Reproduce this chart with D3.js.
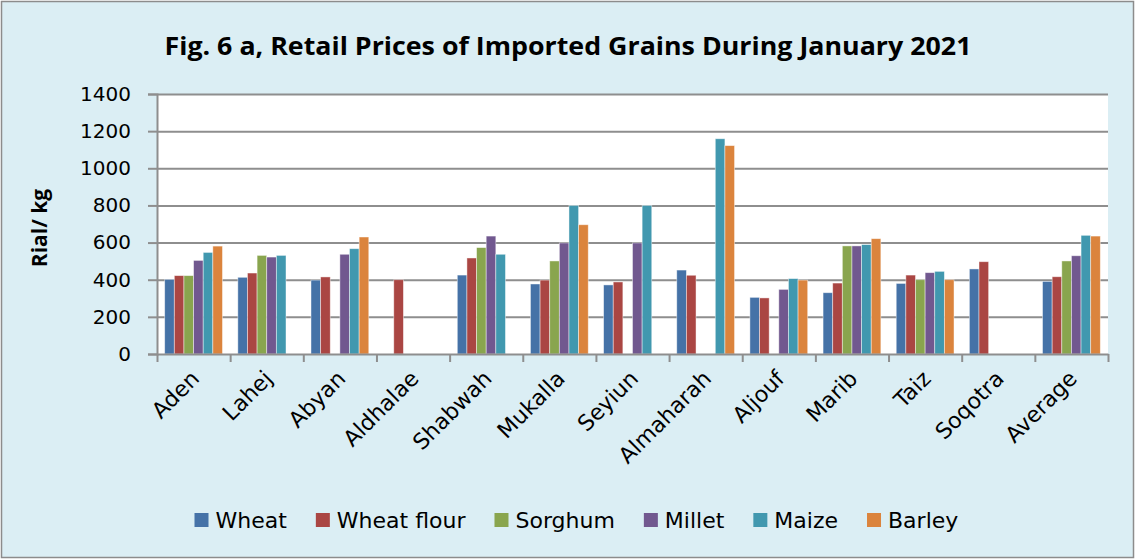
<!DOCTYPE html>
<html>
<head>
<meta charset="utf-8">
<script src="https://cdn.jsdelivr.net/npm/d3@7"></script>
<style>
  body { margin: 0; background: #fff; }
  svg { display: block; }
</style>
</head>
<body>
<svg id="chart"></svg>
<script>
const categories = ['Aden', 'Lahej', 'Abyan', 'Aldhalae', 'Shabwah', 'Mukalla', 'Seyiun', 'Almaharah', 'Aljouf', 'Marib', 'Taiz', 'Soqotra', 'Average'];
const seriesNames = ['Wheat', 'Wheat flour', 'Sorghum', 'Millet', 'Maize', 'Barley'];
const wheat      = [402, 413, 398, null, 425, 377, 372, 452, 305, 330, 380, 458, 391];
const wheatFlour = [422, 436, 415, 400, 517, 398, 388, 424, 302, 382, 425, 497, 416];
const sorghum    = [422, 531, null, null, 573, 501, null, null, null, 582, 400, null, 501];
const millet     = [504, 522, 537, null, 635, 598, 598, null, 348, 582, 438, null, 529];
const maize      = [547, 531, 567, null, 537, 800, 800, 1159, 406, 589, 445, null, 639];
const barley     = [581, null, 630, null, null, 696, null, 1122, 398, 621, 400, null, 635];
const yTicks = [0, 200, 400, 600, 800, 1000, 1200, 1400];
const colors = ['#4572A7', '#AA4643', '#89A54E', '#71588F', '#4198AF', '#DB843D'];

const seriesValues = [wheat, wheatFlour, sorghum, millet, maize, barley];

const width = 1136;
const height = 560;
const plot = { left: 157, right: 1108, top: 94, bottom: 354 };

const svg = d3.select('#chart')
  .attr('width', width)
  .attr('height', height);

// background + frame
svg.append('rect')
  .attr('x', 1.5).attr('y', 1.5)
  .attr('width', width - 4).attr('height', height - 4)
  .attr('fill', '#DBEEF4')
  .attr('stroke', '#8c8c8c')
  .attr('stroke-width', 1.5);

svg.append('rect')
  .attr('x', plot.left).attr('y', plot.top)
  .attr('width', plot.right - plot.left).attr('height', plot.bottom - plot.top)
  .attr('fill', '#fff');

// scales
const x0 = d3.scaleBand()
  .domain(categories)
  .range([plot.left, plot.right])
  .paddingInner(0.21)
  .paddingOuter(0.105);

const x1 = d3.scaleBand()
  .domain(seriesNames)
  .range([0, x0.bandwidth()]);

const xEdge = d3.scaleLinear()
  .domain([0, categories.length])
  .range([plot.left, plot.right]);

const y = d3.scaleLinear()
  .domain([0, 1400])
  .range([plot.bottom, plot.top]);

// gridlines
svg.append('g')
  .attr('class', 'grid')
  .attr('transform', `translate(${plot.left}, 0)`)
  .call(d3.axisLeft(y).tickValues(yTicks.slice(1)).tickSize(-(plot.right - plot.left)).tickFormat(''))
  .call(g => g.select('.domain').remove())
  .call(g => g.selectAll('line').attr('stroke', '#8e8e8e').attr('stroke-width', 2));

// bars
const rows = categories.map((c, i) => ({
  category: c,
  values: seriesNames.map((s, j) => ({ series: s, value: seriesValues[j][i], color: colors[j] }))
}));

svg.append('g')
  .selectAll('g')
  .data(rows)
  .join('g')
  .attr('transform', d => `translate(${x0(d.category)}, 0)`)
  .selectAll('rect')
  .data(d => d.values.filter(v => v.value != null))
  .join('rect')
  .attr('x', d => x1(d.series))
  .attr('y', d => y(d.value))
  .attr('width', x1.bandwidth())
  .attr('height', d => y(0) - y(d.value))
  .attr('fill', d => d.color)
  .attr('stroke', '#ffffff')
  .attr('stroke-opacity', 0.55)
  .attr('stroke-width', 0.8);

// y axis
svg.append('g')
  .attr('transform', `translate(${plot.left}, 0)`)
  .call(d3.axisLeft(y).tickValues(yTicks).tickFormat(d3.format('d')).tickSize(9).tickPadding(17))
  .call(g => g.select('.domain').attr('stroke', '#8e8e8e').attr('stroke-width', 2))
  .call(g => g.selectAll('.tick line').attr('stroke', '#8e8e8e').attr('stroke-width', 2))
  .call(g => g.selectAll('text')
    .attr('fill', '#000')
    .style('font-family', '"DejaVu Sans", sans-serif')
    .style('font-size', '20px'));

// x axis: tick marks on category edges
svg.append('g')
  .attr('transform', `translate(0, ${plot.bottom})`)
  .call(d3.axisBottom(xEdge).ticks(categories.length).tickSize(8).tickSizeOuter(0).tickFormat(''))
  .call(g => g.select('.domain').attr('stroke', '#8e8e8e').attr('stroke-width', 2))
  .call(g => g.selectAll('.tick line').attr('stroke', '#8e8e8e').attr('stroke-width', 2));

// x axis: category labels
svg.append('g')
  .attr('transform', `translate(0, ${plot.bottom})`)
  .call(d3.axisBottom(x0).tickSize(0).tickPadding(0))
  .call(g => g.select('.domain').remove())
  .call(g => g.selectAll('text')
    .attr('fill', '#000')
    .style('font-family', '"DejaVu Sans", sans-serif')
    .style('font-size', '22px')
    .attr('text-anchor', 'end')
    .attr('dy', 0)
    .attr('transform', 'translate(7, 26) rotate(-45)'));

// title
svg.append('text')
  .attr('x', width / 2)
  .attr('y', 55)
  .attr('text-anchor', 'middle')
  .attr('textLength', 807)
  .attr('lengthAdjust', 'spacingAndGlyphs')
  .style('font-family', '"Open Sans", sans-serif')
  .style('font-weight', 'bold')
  .style('font-size', '25px')
  .text('Fig. 6 a, Retail Prices of Imported Grains During January 2021');

// y axis title
svg.append('text')
  .attr('transform', 'translate(47, 228) rotate(-90)')
  .attr('text-anchor', 'middle')
  .style('font-family', '"Open Sans", sans-serif')
  .style('font-weight', 'bold')
  .style('font-size', '21px')
  .text('Rial/ kg');

// legend
const legend = svg.append('g').attr('transform', 'translate(194.5, 520)');
let lx = 0;
seriesNames.forEach((s, j) => {
  const item = legend.append('g').attr('transform', `translate(${lx}, 0)`);
  item.append('rect')
    .attr('x', 0).attr('y', -7)
    .attr('width', 14).attr('height', 14)
    .attr('fill', colors[j]);
  const t = item.append('text')
    .attr('x', 21)
    .attr('y', 8)
    .style('font-family', '"DejaVu Sans", sans-serif')
    .style('font-size', '22px')
    .text(s);
  lx += 21 + t.node().getComputedTextLength() + 29;
});
</script>
</body>
</html>
